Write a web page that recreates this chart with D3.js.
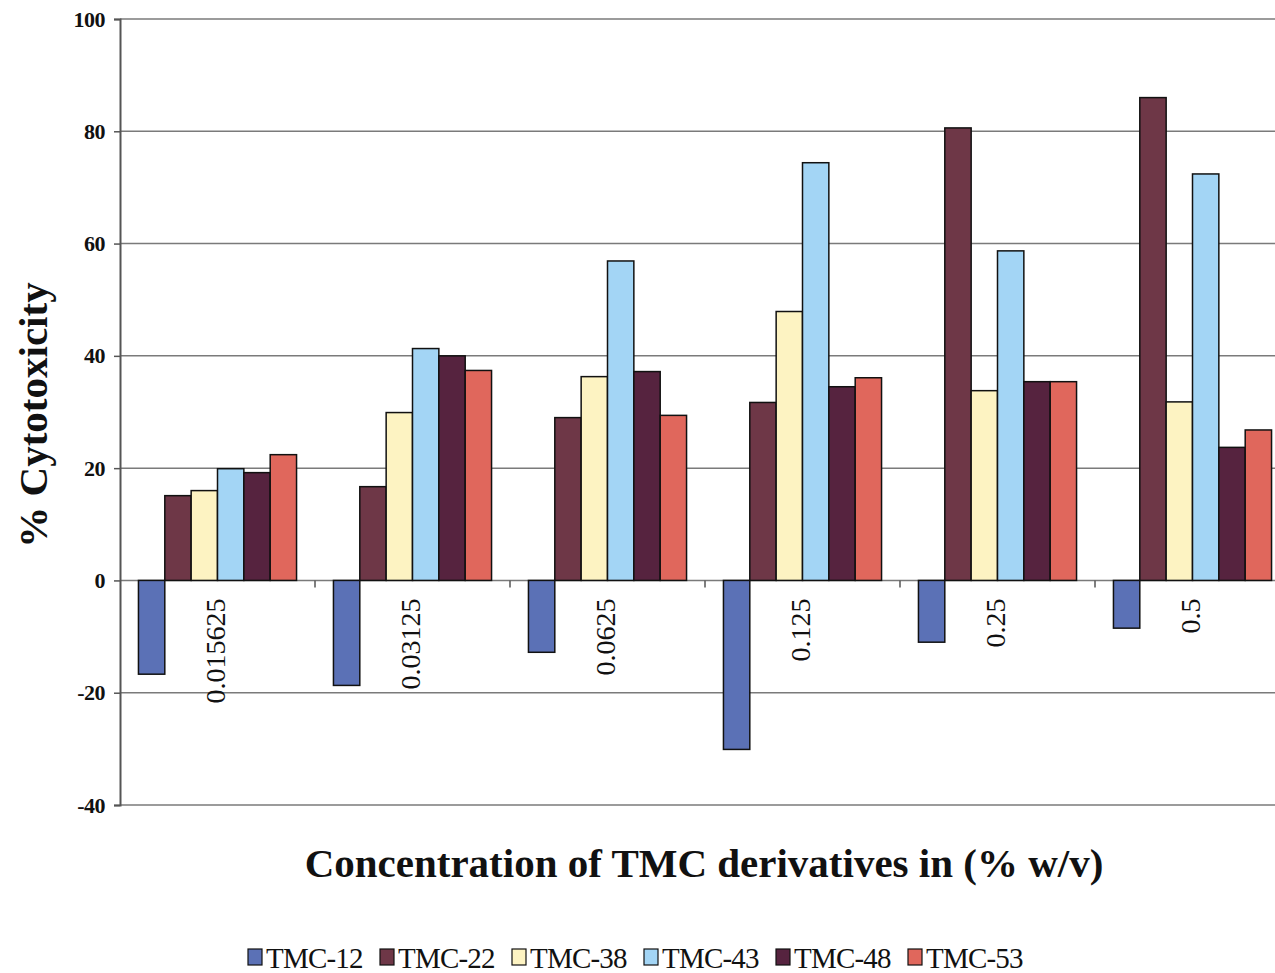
<!DOCTYPE html>
<html>
<head>
<meta charset="utf-8">
<script src="https://cdn.jsdelivr.net/npm/d3@7"></script>
<style>
  body { margin: 0; background: #fff; }
  svg { display: block; }
  text { font-family: "Liberation Serif", "Times New Roman", serif; fill: #111; }
</style>
</head>
<body>
<div id="chart"></div>
<script>
/* DATA */
const categories = ["0.015625", "0.03125", "0.0625", "0.125", "0.25", "0.5"];
const seriesNames = ["TMC-12", "TMC-22", "TMC-38", "TMC-43", "TMC-48", "TMC-53"];
const seriesColors = ["#5b71b6", "#6e3747", "#fdf3c2", "#a3d5f5", "#56233f", "#e0675c"];
const tmc12 = [-16.7, -18.7, -12.8, -30.1, -11.0, -8.5];
const tmc22 = [15.1, 16.7, 29.0, 31.7, 80.6, 86.0];
const tmc38 = [16.0, 29.9, 36.3, 47.9, 33.8, 31.8];
const tmc43 = [19.9, 41.3, 56.9, 74.4, 58.7, 72.4];
const tmc48 = [19.2, 40.0, 37.2, 34.5, 35.4, 23.7];
const tmc53 = [22.4, 37.4, 29.4, 36.1, 35.4, 26.8];
const yTicks = [-40, -20, 0, 20, 40, 60, 80, 100];

const seriesValues = [tmc12, tmc22, tmc38, tmc43, tmc48, tmc53];

/* CONSTANTS */
const width = 1275,
  height = 973,
  margin = { top: 19, left: 120, bottom: 168 };

const svg = d3.select("#chart")
  .append("svg")
  .attr("width", width)
  .attr("height", height);

// scales
const xScale = d3.scaleBand()
  .domain(categories)
  .range([margin.left, 1290]);

const xInner = d3.scaleBand()
  .domain(seriesNames)
  .range([0, xScale.bandwidth()])
  .paddingOuter(0.7);

const yScale = d3.scaleLinear()
  .domain([-40, 100])
  .range([height - margin.bottom, margin.top]);

const colorScale = d3.scaleOrdinal(seriesNames, seriesColors);

// gridlines
svg.append("g")
  .selectAll("line")
  .data(yTicks)
  .join("line")
  .attr("x1", margin.left)
  .attr("x2", width)
  .attr("y1", d => yScale(d))
  .attr("y2", d => yScale(d))
  .attr("stroke", "#7a7a7a")
  .attr("stroke-width", 1.5);

// y axis
const yAxis = d3.axisLeft(yScale)
  .tickValues(yTicks)
  .tickFormat(d => String(d))
  .tickSize(6)
  .tickPadding(9);

const yAxisGroup = svg.append("g")
  .attr("transform", `translate(${margin.left}, 0)`)
  .call(yAxis);

yAxisGroup.select(".domain").attr("stroke", "#555").attr("stroke-width", 2);
yAxisGroup.selectAll(".tick line").attr("stroke", "#555").attr("stroke-width", 1.5);
yAxisGroup.selectAll(".tick text")
  .attr("font-family", "Liberation Serif, serif")
  .attr("font-size", 22)
  .attr("font-weight", "bold")
  .attr("letter-spacing", -0.5)
  .attr("fill", "#111");

// bars
const groups = svg.append("g")
  .selectAll("g")
  .data(categories)
  .join("g")
  .attr("transform", d => `translate(${xScale(d)}, 0)`);

groups.selectAll("rect")
  .data((c, i) => seriesNames.map((s, j) => ({ series: s, value: seriesValues[j][i] })))
  .join("rect")
  .attr("x", d => xInner(d.series))
  .attr("width", xInner.bandwidth())
  .attr("y", d => yScale(Math.max(0, d.value)))
  .attr("height", d => Math.abs(yScale(d.value) - yScale(0)))
  .attr("fill", d => colorScale(d.series))
  .attr("stroke", "#111")
  .attr("stroke-width", 1.5);

// category axis on zero line
const xAxis = d3.axisBottom(xScale).tickSize(0).tickPadding(0);
const xAxisGroup = svg.append("g")
  .attr("transform", `translate(0, ${yScale(0)})`)
  .call(xAxis);
xAxisGroup.select(".domain").remove();
xAxisGroup.selectAll(".tick text")
  .attr("font-family", "Liberation Serif, serif")
  .attr("font-size", 28)
  .attr("fill", "#111")
  .attr("text-anchor", "end")
  .attr("dy", "0.35em")
  .attr("transform", "translate(-2, 18) rotate(-90)");

// boundary ticks below zero line
svg.append("g")
  .selectAll("line")
  .data(categories.slice(1))
  .join("line")
  .attr("x1", d => xScale(d))
  .attr("x2", d => xScale(d))
  .attr("y1", yScale(0))
  .attr("y2", yScale(0) + 7)
  .attr("stroke", "#555")
  .attr("stroke-width", 1.5);

// axis titles
svg.append("text")
  .attr("x", 704)
  .attr("y", 877)
  .attr("text-anchor", "middle")
  .attr("font-size", 41)
  .attr("font-weight", "bold")
  .text("Concentration of TMC derivatives in (% w/v)");

svg.append("text")
  .attr("transform", `translate(47, ${415}) rotate(-90)`)
  .attr("text-anchor", "middle")
  .attr("font-size", 41)
  .attr("font-weight", "bold")
  .text("% Cytotoxicity");

// legend
const legend = svg.append("g")
  .selectAll("g")
  .data(seriesNames)
  .join("g")
  .attr("transform", (d, i) => `translate(${248 + i * 132}, 957)`);

legend.append("rect")
  .attr("x", 0)
  .attr("y", -8)
  .attr("width", 14)
  .attr("height", 16)
  .attr("fill", d => colorScale(d))
  .attr("stroke", "#111")
  .attr("stroke-width", 1.2);

legend.append("text")
  .attr("x", 18)
  .attr("y", 11)
  .attr("font-size", 29)
  .attr("letter-spacing", -0.8)
  .text(d => d);
</script>
</body>
</html>
